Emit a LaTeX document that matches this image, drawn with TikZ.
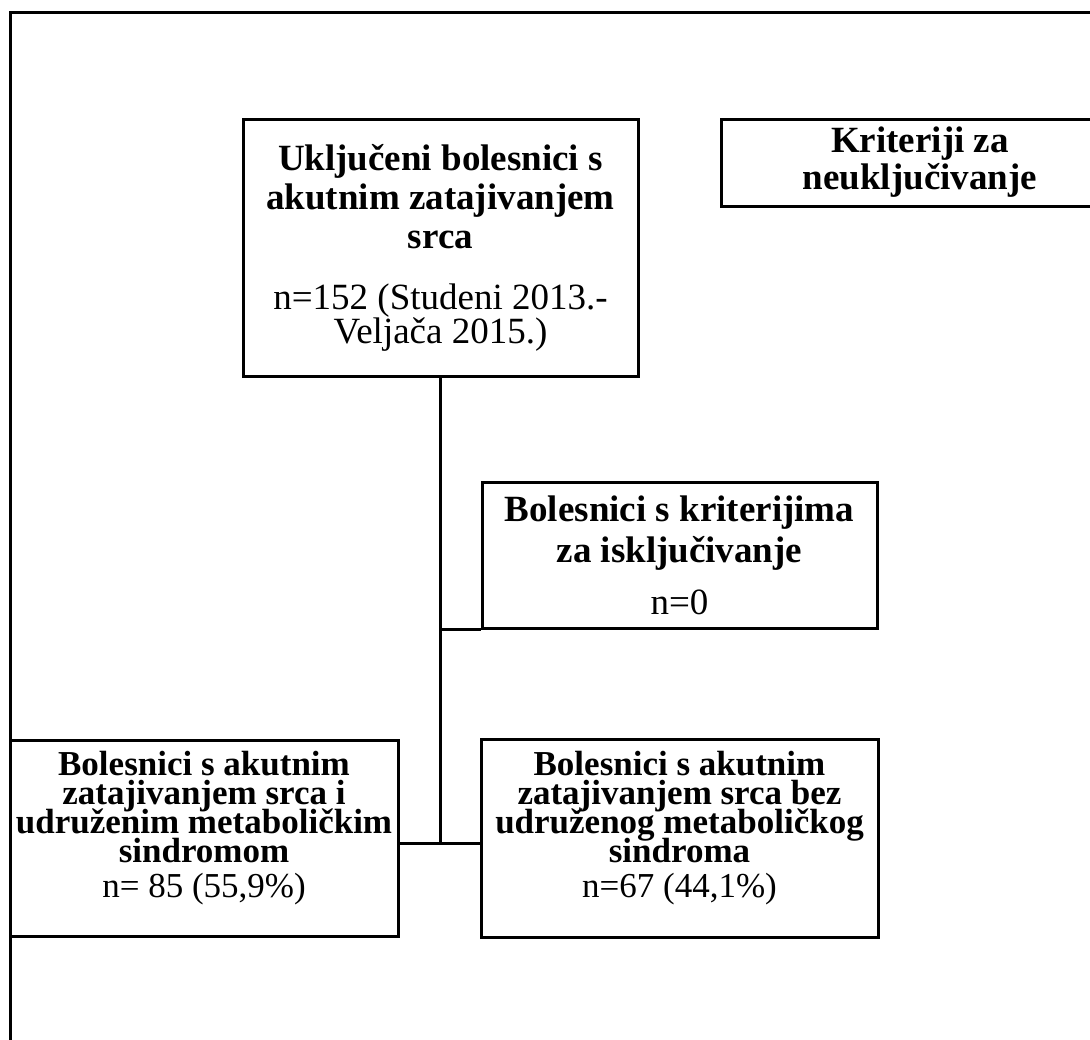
\documentclass[tikz,border=0pt]{standalone}
\usepackage{fontspec}
\setmainfont{Liberation Serif}
\usetikzlibrary{positioning}
\newcommand\tightlines{\lineskiplimit=-30pt\relax}

\tikzset{
  box/.style={draw, line width=1.5pt, align=center, inner sep=0pt},
  conn/.style={line width=1.5pt},
}

\begin{document}
\begin{tikzpicture}[x=0.5pt, y=-0.5pt]
            \clip (0,0) rectangle (1090,1039);
            \fill[white] (0,0) rectangle (1090,1039);
            \draw[conn] (10,12) rectangle (1120,1070);
            \node[box, minimum width=197.5pt, minimum height=128.5pt, font=\fontsize{18.5}{19.5}\selectfont\tightlines] (incl) at (440.5,247.5) {\textbf{Uključeni bolesnici s}\\\textbf{akutnim zatajivanjem}\\\textbf{srca}\\[11pt]n=152 (Studeni 2013.-\\[-2.5pt]Veljača 2015.)};
            \node[box, minimum width=199pt, minimum height=43.5pt, font=\fontsize{18.5}{18.5}\selectfont\tightlines] (crit) at (920,162.5) {\textbf{Kriteriji za}\\\textbf{neuključivanje}};
            \node[box, minimum width=197.5pt, minimum height=73pt, font=\fontsize{18.5}{20.5}\selectfont\tightlines] (excl) at (679.5,555) {\textbf{Bolesnici s kriterijima}\\\textbf{za isključivanje}\\[5.5pt]n=0};
            \node[box, minimum width=194pt, minimum height=98pt, text depth=14pt, font=\fontsize{17.5}{14.5}\selectfont\tightlines] (ams) at (204,838) {\textbf{Bolesnici s akutnim}\\\textbf{zatajivanjem srca i}\\\textbf{udruženim metaboličkim}\\\textbf{sindromom}\\[3pt]n= 85 (55,9\%)};
            \node[box, minimum width=198.5pt, minimum height=99pt, text depth=14pt, font=\fontsize{17.5}{14.5}\selectfont\tightlines] (nms) at (679.5,838) {\textbf{Bolesnici s akutnim}\\\textbf{zatajivanjem srca bez}\\\textbf{udruženog metaboličkog}\\\textbf{sindroma}\\[3pt]n=67 (44,1\%)};
            \coordinate (jexcl) at (incl.south |- excl.south west);
            \coordinate (jsplit) at (440.5,843);
            \draw[conn] (incl.south) -- (jsplit);
            \draw[conn] (jexcl) -- (excl.south west);
            \draw[conn] (ams.east |- jsplit) -- (nms.west |- jsplit);
        \end{tikzpicture}
\end{document}
